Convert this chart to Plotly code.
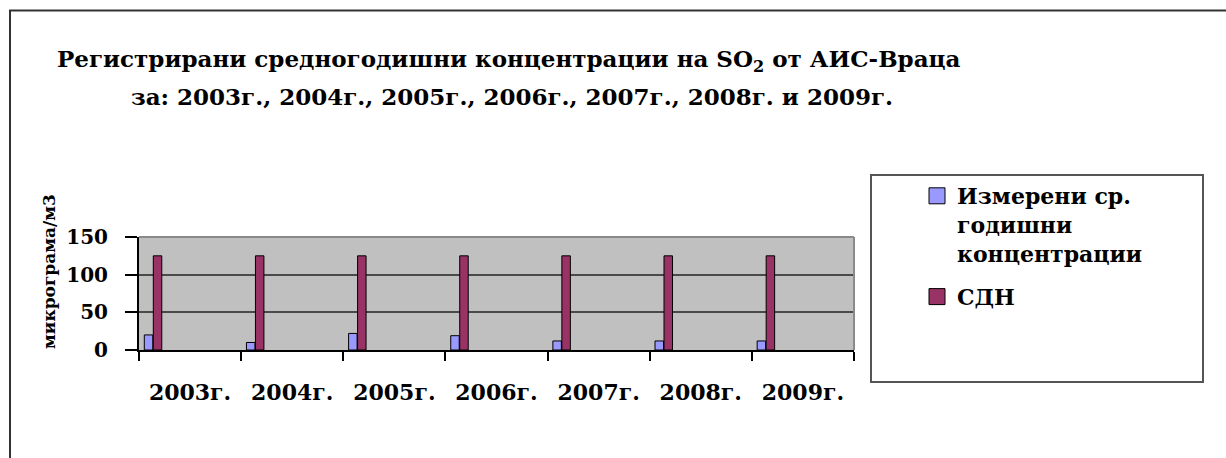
import plotly.graph_objects as go

# ---- data ----
years = ["2003г.", "2004г.", "2005г.", "2006г.", "2007г.", "2008г.", "2009г."]
measured = [20, 10, 22, 19, 12, 12, 12]
limit_sdn = [125, 125, 125, 125, 125, 125, 125]
y_ticks = [0, 50, 100, 150]
series_names = ["Измерени ср.<br>годишни<br>концентрации", "СДН"]
title_line1 = "Регистрирани средногодишни концентрации на SO<sub>2</sub> от АИС-Враца"
title_line2 = "за: 2003г., 2004г., 2005г., 2006г., 2007г., 2008г. и 2009г."
y_title = "микрограма/м3"

# ---- geometry (pixels) ----
W, H = 1226, 458
L, R, T, B = 139, 372, 237, 108
PW, PH = W - L - R, H - T - B


def px(x):
    return (x - L) / PW


def py(y):
    return (H - B - y) / PH


FONT = "DejaVu Serif"
BLUE = "#9999FF"
RED = "#993366"

fig = go.Figure()
fig.add_trace(go.Bar(
    x=years, y=measured, name=series_names[0], showlegend=False,
    width=0.083, offset=-0.448,
    marker=dict(color=BLUE, line=dict(color="#000000", width=1)),
))
fig.add_trace(go.Bar(
    x=years, y=limit_sdn, name=series_names[1], showlegend=False,
    width=0.083, offset=-0.36,
    marker=dict(color=RED, line=dict(color="#000000", width=1)),
))
# legend entries (square swatches)
for name, col, grp in [(series_names[0], BLUE, "a"), (series_names[1], RED, "b")]:
    fig.add_trace(go.Scatter(
        x=[None], y=[None], mode="markers", name=name, legendgroup=grp,
        marker=dict(symbol="square", size=16, color=col, line=dict(color="#000000", width=1)),
    ))

shapes = [
    # plot border top/right (gray)
    dict(type="line", xref="paper", yref="paper", x0=0, x1=1, y0=1, y1=1,
         line=dict(color="#8a8a8a", width=2), layer="above"),
    dict(type="line", xref="paper", yref="paper", x0=1, x1=1, y0=0, y1=1,
         line=dict(color="#8a8a8a", width=2), layer="above"),
    # legend box
    dict(type="rect", xref="paper", yref="paper", x0=px(871), x1=px(1203), y0=py(382), y1=py(175),
         line=dict(color="#555555", width=2), fillcolor="rgba(0,0,0,0)"),
    # outer frame
    dict(type="line", xref="paper", yref="paper", x0=px(9), x1=px(1226), y0=py(10.5), y1=py(10.5),
         line=dict(color="#333333", width=2)),
    dict(type="line", xref="paper", yref="paper", x0=px(10), x1=px(10), y0=py(10), y1=py(458),
         line=dict(color="#333333", width=2)),
]

annotations = [
    dict(text="<b>" + title_line1 + "</b>", xref="paper", yref="paper", x=px(509), y=py(61),
         xanchor="center", yanchor="middle", showarrow=False,
         font=dict(family=FONT, size=23, color="#000000")),
    dict(text="<b>" + title_line2 + "</b>", xref="paper", yref="paper", x=px(512), y=py(96),
         xanchor="center", yanchor="middle", showarrow=False,
         font=dict(family=FONT, size=23, color="#000000")),
    dict(text="<b>" + y_title + "</b>", xref="paper", yref="paper", x=px(49), y=py(271),
         xanchor="center", yanchor="middle", textangle=-90, showarrow=False,
         font=dict(family=FONT, size=17, color="#000000")),
]

fig.update_layout(
    width=W, height=H, autosize=False,
    margin=dict(l=L, r=R, t=T, b=B, pad=0),
    paper_bgcolor="#FFFFFF", plot_bgcolor="#C0C0C0",
    barmode="overlay",
    shapes=shapes, annotations=annotations,
    showlegend=True,
    legend=dict(
        x=px(917), y=py(175), xanchor="left", yanchor="top",
        bgcolor="rgba(0,0,0,0)", borderwidth=0,
        font=dict(family=FONT, size=22, color="#000000", weight="bold"),
        valign="top", tracegroupgap=12, traceorder="grouped",
    ),
    xaxis=dict(
        type="category", categoryorder="array", categoryarray=years,
        range=[-0.5, len(years) - 0.5],
        showgrid=False, showline=True, linecolor="#000000", linewidth=2,
        ticks="outside", tickson="boundaries", ticklen=9, tickwidth=2, tickcolor="#000000",
        tickfont=dict(family=FONT, size=22, color="#000000", weight="bold"),
        ticklabelstandoff=22, zeroline=False,
    ),
    yaxis=dict(
        range=[0, 150], tickvals=y_ticks, ticktext=[str(v) for v in y_ticks],
        showgrid=True, gridcolor="#4a4a4a", gridwidth=2,
        showline=True, linecolor="#000000", linewidth=2,
        ticks="outside", ticklen=12, tickwidth=2, tickcolor="#000000",
        tickfont=dict(family=FONT, size=20, color="#000000", weight="bold"),
        ticklabelstandoff=13, zeroline=False,
    ),
)

fig.write_html("out.html", config={"displayModeBar": False},
               post_script="document.body.style.margin='0px';")
